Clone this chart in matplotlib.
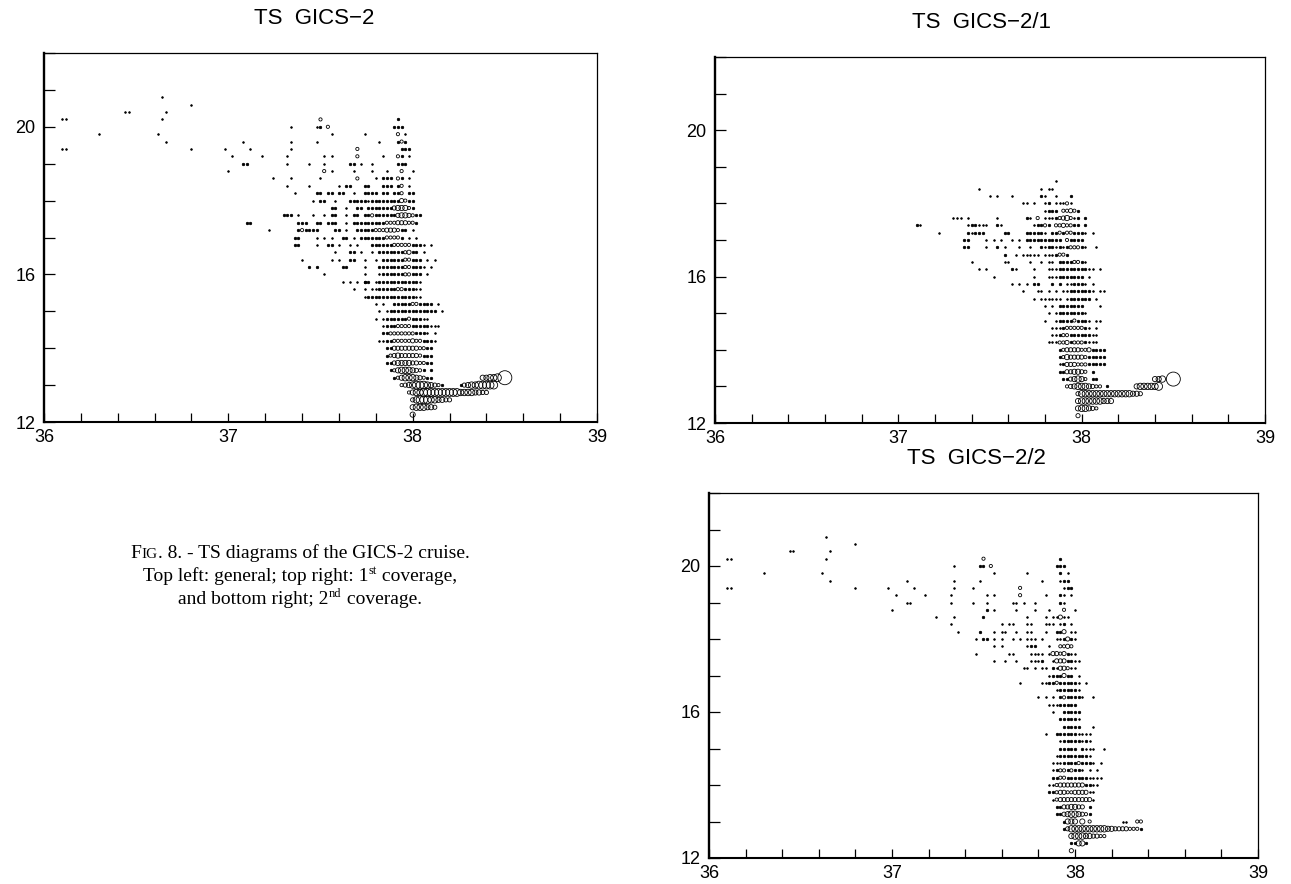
import matplotlib.pyplot as plt
from matplotlib.ticker import MultipleLocator, FuncFormatter
import numpy as np

plt.rcParams['font.family'] = ['Liberation Sans', 'DejaVu Sans']

# TS rows: (temperature, first salinity, one char per 0.02 salinity bin)
# ' ' = empty bin, '1'..'9' = size class of the point (number of samples)
ts_general = [
    (20.8, 36.64, "1"), (20.6, 36.80, "1"),
    (20.4, 36.44, "11"), (20.4, 36.66, "1"),
    (20.2, 36.10, "11"), (20.2, 36.64, "1"), (20.2, 37.50, "3"), (20.2, 37.92, "2"),
    (20.0, 37.34, "1"), (20.0, 37.48, "12 3"), (20.0, 37.90, "222"),
    (19.8, 36.30, "1"), (19.8, 36.62, "1"), (19.8, 37.56, "1"), (19.8, 37.74, "1"), (19.8, 37.92, "3 1"),
    (19.6, 36.66, "1"), (19.6, 37.08, "1"), (19.6, 37.34, "1"), (19.6, 37.48, "1"), (19.6, 37.82, "1"),
    (19.6, 37.92, "232"),
    (19.4, 36.10, "11"), (19.4, 36.80, "1"), (19.4, 36.98, "1"), (19.4, 37.12, "1"), (19.4, 37.34, "1"),
    (19.4, 37.70, "3"), (19.4, 37.94, "222"),
    (19.2, 37.02, "1"), (19.2, 37.18, "1"), (19.2, 37.32, "1"), (19.2, 37.52, "1 1"), (19.2, 37.70, "3"),
    (19.2, 37.84, "1"), (19.2, 37.92, "32 1"),
    (19.0, 37.08, "22"), (19.0, 37.32, "1"), (19.0, 37.44, "1"), (19.0, 37.52, "1"), (19.0, 37.66, "22"),
    (19.0, 37.72, "1"), (19.0, 37.78, "1"), (19.0, 37.92, "222"),
    (18.8, 37.00, "1"), (18.8, 37.52, "3 1"), (18.8, 37.68, "1"), (18.8, 37.78, "1"), (18.8, 37.86, "1"),
    (18.8, 37.94, "3  1"),
    (18.6, 37.24, "1"), (18.6, 37.34, "1"), (18.6, 37.50, "1"), (18.6, 37.70, "3"), (18.6, 37.80, "1 222 32 1"),
    (18.4, 37.32, "1"), (18.4, 37.44, "1"), (18.4, 37.60, "1 22"), (18.4, 37.74, "22"), (18.4, 37.84, "222 23 1"),
    (18.2, 37.36, "1"), (18.2, 37.48, "22 22"), (18.2, 37.60, "22"), (18.2, 37.68, "1"),
    (18.2, 37.74, "2222 22 223 22"),
    (18.0, 37.46, "1 22"), (18.0, 37.58, "1"), (18.0, 37.66, "2222"), (18.0, 37.74, "21222222224322"),
    (17.8, 37.56, "22"), (17.8, 37.64, "1"), (17.8, 37.70, "22"), (17.8, 37.76, "2222222455532"),
    (17.6, 37.30, "222"), (17.6, 37.38, "1"), (17.6, 37.46, "1"), (17.6, 37.52, "1"), (17.6, 37.56, "22"),
    (17.6, 37.64, "1"), (17.6, 37.68, "22"), (17.6, 37.74, "2232222224554322"),
    (17.4, 37.10, "22"), (17.4, 37.38, "222"), (17.4, 37.48, "22"), (17.4, 37.54, "222"), (17.4, 37.64, "1"),
    (17.4, 37.68, "222222222333444332"),
    (17.2, 37.22, "1"), (17.2, 37.38, "232222"), (17.2, 37.58, "22"), (17.2, 37.64, "1"),
    (17.2, 37.70, "22222333444322 1"),
    (17.0, 37.36, "22"), (17.0, 37.48, "1"), (17.0, 37.52, "1"), (17.0, 37.56, "1"), (17.0, 37.62, "22"),
    (17.0, 37.68, "1 222222233332 1 1"),
    (16.8, 37.36, "22"), (16.8, 37.48, "1"), (16.8, 37.54, "22"), (16.8, 37.60, "1"), (16.8, 37.66, "1"),
    (16.8, 37.70, "1"), (16.8, 37.78, "222222333332221 1"),
    (16.6, 37.58, "1"), (16.6, 37.66, "22"), (16.6, 37.72, "1"), (16.6, 37.78, "1"), (16.6, 37.82, "22222223422 1"),
    (16.4, 37.40, "1"), (16.4, 37.56, "1"), (16.4, 37.60, "1"), (16.4, 37.66, "22"), (16.4, 37.74, "1"),
    (16.4, 37.80, "1 22222233222 1 1"),
    (16.2, 37.44, "2 2"), (16.2, 37.62, "22"), (16.2, 37.74, "1"), (16.2, 37.82, "2222222332221 1"),
    (16.0, 37.52, "1"), (16.0, 37.74, "1"), (16.0, 37.82, "122222233222 1"),
    (15.8, 37.62, "1 1 1 2"), (15.8, 37.74, "22"), (15.8, 37.80, "1222222222221"),
    (15.6, 37.68, "1"), (15.6, 37.74, "1 11222223322211"),
    (15.4, 37.74, "1222222222222211"),
    (15.2, 37.80, "1 1"), (15.2, 37.90, "22222332222 1"),
    (15.0, 37.82, "1 12222222222222 1"),
    (14.8, 37.80, "1"), (14.8, 37.84, "1222222322211"),
    (14.6, 37.84, "1222333322222111"),
    (14.4, 37.84, "2233333332221 1"),
    (14.2, 37.82, "1122333334332221"),
    (14.0, 37.86, "2244444443322"),
    (13.8, 37.86, "2345444443222"),
    (13.6, 37.86, "2245555443322"),
    (13.4, 37.88, "2356665432 2"),
    (13.2, 37.90, "23566654322"), (13.2, 38.38, "55667"), (13.2, 38.50, "9"),
    (13.0, 37.94, "345677765432"), (13.0, 38.26, "2456677777"),
    (12.8, 37.98, "3566777777777766665544"),
    (12.6, 38.00, "46777665544"),
    (12.4, 38.00, "5666554"),
    (12.2, 38.00, "5"),
]

ts_cov1 = [
    (18.6, 37.86, "1"),
    (18.4, 37.44, "1"), (18.4, 37.78, "1 11"),
    (18.2, 37.50, "1 1"), (18.2, 37.62, "1"), (18.2, 37.78, "21"), (18.2, 37.86, "1"), (18.2, 37.94, "2"),
    (18.0, 37.68, "11 1"), (18.0, 37.80, "12"), (18.0, 37.86, "11131"),
    (17.8, 37.80, "1222 33432"),
    (17.6, 37.30, "111 1"), (17.6, 37.54, "1"), (17.6, 37.70, "21"), (17.6, 37.76, "3 1112345312 2"),
    (17.4, 37.10, "21"), (17.4, 37.38, "1221"), (17.4, 37.46, "11"), (17.4, 37.54, "21"),
    (17.4, 37.74, "12232 3343322 2"),
    (17.2, 37.22, "1"), (17.2, 37.38, "21222"), (17.2, 37.58, "22"), (17.2, 37.70, "222221 2232332221 1"),
    (17.0, 37.36, "22"), (17.0, 37.48, "1 1 1"), (17.0, 37.62, "1 1 2222222222 32222"),
    (16.8, 37.36, "22"), (16.8, 37.48, "1"), (16.8, 37.54, "2 1"), (16.8, 37.66, "1"), (16.8, 37.72, "1"),
    (16.8, 37.78, "2122121233321  1"),
    (16.6, 37.58, "2"), (16.6, 37.64, "1 11111 1112332"),
    (16.4, 37.40, "1"), (16.4, 37.58, "11"), (16.4, 37.72, "1"), (16.4, 37.78, "1 11 22223321"),
    (16.2, 37.44, "1 1"), (16.2, 37.62, "21"), (16.2, 37.74, "1"), (16.2, 37.82, "1112222222211 1"),
    (16.0, 37.52, "1"), (16.0, 37.74, "1"), (16.0, 37.82, "1112222222 1"),
    (15.8, 37.62, "1 1 1 22"), (15.8, 37.84, "2 2 112221 1"),
    (15.6, 37.68, "1"), (15.6, 37.76, "11"), (15.6, 37.82, "1 1 112222221 11"),
    (15.4, 37.74, "1 111111 1222222 1"),
    (15.2, 37.80, "1 1 2222222"), (15.2, 38.10, "1"),
    (15.0, 37.82, "1 122222221"),
    (14.8, 37.80, "1  1222232221 11"),
    (14.6, 37.84, "11123333321 1"),
    (14.4, 37.84, "1123322222211"),
    (14.2, 37.82, "11133423332111"),
    (14.0, 37.88, "2344443342222"),
    (13.8, 37.88, "2354444322222"),
    (13.6, 37.88, "1244433322222"),
    (13.4, 37.88, "22445543 2"),
    (13.2, 37.90, "2245653 22"), (13.2, 38.40, "556"), (13.2, 38.50, "9"),
    (13.0, 37.92, "3456665433 2"), (13.0, 38.30, "5666667"),
    (12.8, 37.98, "466666666666666554"),
    (12.6, 37.98, "5666666555"),
    (12.4, 37.98, "566543"),
    (12.2, 37.98, "4"),
]

ts_cov2 = [
    (20.8, 36.64, "1"), (20.6, 36.80, "1"),
    (20.4, 36.44, "11"), (20.4, 36.66, "1"),
    (20.2, 36.10, "11"), (20.2, 36.64, "1"), (20.2, 37.50, "3"), (20.2, 37.92, "2"),
    (20.0, 37.34, "1"), (20.0, 37.48, "22 3"), (20.0, 37.90, "222"),
    (19.8, 36.30, "1"), (19.8, 36.62, "1"), (19.8, 37.56, "1"), (19.8, 37.74, "1"), (19.8, 37.92, "2 1"),
    (19.6, 36.66, "1"), (19.6, 37.08, "1"), (19.6, 37.34, "1"), (19.6, 37.48, "1"), (19.6, 37.82, "1"),
    (19.6, 37.92, "122"),
    (19.4, 36.10, "11"), (19.4, 36.80, "1"), (19.4, 36.98, "1"), (19.4, 37.12, "1"), (19.4, 37.34, "1"),
    (19.4, 37.44, "1"), (19.4, 37.70, "3"), (19.4, 37.94, "122"),
    (19.2, 37.02, "1"), (19.2, 37.18, "1"), (19.2, 37.32, "1"), (19.2, 37.52, "1 1"), (19.2, 37.70, "3"),
    (19.2, 37.84, "1"), (19.2, 37.92, "21 1"),
    (19.0, 37.08, "11"), (19.0, 37.32, "1"), (19.0, 37.44, "1"), (19.0, 37.52, "1"), (19.0, 37.66, "11"),
    (19.0, 37.72, "1"), (19.0, 37.78, "1"), (19.0, 37.92, "21"),
    (18.8, 37.00, "1"), (18.8, 37.52, "2 1"), (18.8, 37.68, "1"), (18.8, 37.78, "1"), (18.8, 37.86, "1"),
    (18.8, 37.94, "3  1"),
    (18.6, 37.24, "1"), (18.6, 37.34, "1"), (18.6, 37.50, "2"), (18.6, 37.74, "1"), (18.6, 37.84, "1 11411"),
    (18.4, 37.32, "1"), (18.4, 37.60, "1 11"), (18.4, 37.74, "11"), (18.4, 37.84, "111 12 1"),
    (18.2, 37.36, "1"), (18.2, 37.48, "2"), (18.2, 37.56, "1 11"), (18.2, 37.68, "1"), (18.2, 37.74, "11"),
    (18.2, 37.84, "1"), (18.2, 37.90, "224 11"),
    (18.0, 37.46, "1 22"), (18.0, 37.56, "1 1"), (18.0, 37.66, "1"), (18.0, 37.70, "1"), (18.0, 37.74, "111"),
    (18.0, 37.82, "1"), (18.0, 37.90, "112421"),
    (17.8, 37.56, "1 1"), (17.8, 37.74, "122"), (17.8, 37.86, "1"), (17.8, 37.92, "3343"),
    (17.6, 37.46, "1"), (17.6, 37.64, "11"), (17.6, 37.76, "1111"), (17.6, 37.86, "14434211"),
    (17.4, 37.56, "1"), (17.4, 37.62, "1"), (17.4, 37.68, "1"), (17.4, 37.76, "1112"), (17.4, 37.88, "14442211"),
    (17.2, 37.72, "11 1"), (17.2, 37.82, "11"), (17.2, 37.88, "2144311"),
    (17.0, 37.86, "1222422 1"),
    (16.8, 37.70, "1"), (16.8, 37.82, "11223222221 1"),
    (16.6, 37.90, "1222221"),
    (16.4, 37.80, "1 1 1 2322221  1"),
    (16.2, 37.86, "11122222"),
    (16.0, 37.88, "1  22222"),
    (15.8, 37.92, "222221"),
    (15.6, 37.94, "22222   1"),
    (15.4, 37.84, "1  2222221111"),
    (15.2, 37.92, "122222121"),
    (15.0, 37.92, "22222 2111  1"),
    (14.8, 37.90, "1222222221"),
    (14.6, 37.88, "111222232221 1"),
    (14.4, 37.88, "123323221 1 1"),
    (14.2, 37.88, "22332222221111"),
    (14.0, 37.86, "11344444442211"),
    (13.8, 37.86, "2234433444411"),
    (13.6, 37.88, "134444444441"),
    (13.4, 37.90, "22445544 2"),
    (13.2, 37.90, "2245665432"),
    (13.0, 37.94, "2555 5 3"), (13.0, 38.26, "11"), (13.0, 38.34, "33"),
    (12.8, 37.94, "2466666666665544443332"),
    (12.6, 37.98, "5666554433"),
    (12.4, 37.98, "22552"),
    (12.2, 37.98, "4"),
]

titles = ["TS  GICS\u22122", "TS  GICS\u22122/1", "TS  GICS\u22122/2"]

# marker diameter (pixels) for each size class
class_diam = {1: 1.6, 2: 2.4, 3: 3.2, 4: 4.2, 5: 5.2, 6: 6.4, 7: 7.8, 8: 10.0, 9: 14.0}


def expand(rows):
    sal, temp, cls = [], [], []
    for t, s0, pattern in rows:
        for i, ch in enumerate(pattern):
            if ch == ' ':
                continue
            sal.append(s0 + 0.02 * i)
            temp.append(t)
            cls.append(int(ch))
    return np.array(sal), np.array(temp), np.array(cls)


W, H = 1291, 884
fig = plt.figure(figsize=(W / 100, H / 100), dpi=100)

# axes boxes in pixels: left, top, right, bottom
boxes = [(44, 53, 597, 422), (715, 57, 1265, 423), (709, 493, 1258, 858)]
title_pos = [(314, 19), (981, 22), (976, 458)]
datasets = [ts_general, ts_cov1, ts_cov2]

for (l, t, r, b), data, title, (tx, ty) in zip(boxes, datasets, titles, title_pos):
    ax = fig.add_axes([l / W, (H - b) / H, (r - l) / W, (b - t) / H])
    sal, temp, cls = expand(data)
    for c in sorted(class_diam):
        m = cls == c
        if not m.any():
            continue
        d = class_diam[c] * 0.72
        ax.scatter(sal[m], temp[m], s=d ** 2, marker='o',
                   facecolors='black' if c <= 2 else 'none',
                   edgecolors='black', linewidths=0.6, zorder=3)
    ax.set_xlim(36, 39)
    ax.set_ylim(12, 22)
    ax.xaxis.set_major_locator(MultipleLocator(0.2))
    ax.yaxis.set_major_locator(MultipleLocator(1))
    ax.xaxis.set_major_formatter(FuncFormatter(
        lambda v, p: f"{v:.0f}" if abs(v - round(v)) < 1e-6 else ""))
    ax.yaxis.set_major_formatter(FuncFormatter(
        lambda v, p: f"{v:.0f}" if round(v) in (12, 16, 20) and abs(v - round(v)) < 1e-6 else ""))
    ax.tick_params(axis='x', direction='in', length=6.5, width=0.9, pad=5, labelsize=13)
    ax.tick_params(axis='y', direction='in', length=8, width=0.9, pad=6, labelsize=13)
    ax.spines['left'].set_linewidth(1.7)
    ax.spines['bottom'].set_linewidth(1.5)
    ax.spines['top'].set_linewidth(0.9)
    ax.spines['right'].set_linewidth(0.9)
    fig.text(tx / W, 1 - ty / H, title, ha='center', va='center', fontsize=16)

# caption, built from pieces to get small caps and superscripts
renderer = fig.canvas.get_renderer()
serif = 'Liberation Serif'
caption = [
    (558, [("F", 14, 0), ("IG", 11, 0), (". 8. - TS diagrams of the GICS-2 cruise.", 14, 0)]),
    (581, [("Top left: general; top right: 1", 14, 0), ("st", 9, 7), (" coverage,", 14, 0)]),
    (604, [("and bottom right; 2", 14, 0), ("nd", 9, 7), (" coverage.", 14, 0)]),
]
cap_center = 300
for base, pieces in caption:
    texts = []
    x = 0
    for s, size, dy in pieces:
        txt = fig.text(x, H - base + dy, s, fontsize=size, family=serif,
                       va='baseline', ha='left', transform=None)
        x += txt.get_window_extent(renderer).width
        texts.append(txt)
    x0 = cap_center - x / 2
    for txt in texts:
        px, py = txt.get_position()
        txt.set_position((px + x0, py))

fig.savefig("out.png", dpi=100)
